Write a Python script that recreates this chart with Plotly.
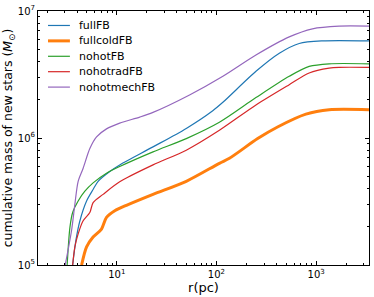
import plotly.graph_objects as go

# ---- data ----
r_fullFB = [3.61, 3.89, 4.27, 4.98, 5.79, 6.50, 8.51, 10.7, 23.1, 49.8, 91.8, 116, 249, 427, 676, 1156, 3388]
m_fullFB = [1.0e5, 1.56e5, 2.23e5, 3.19e5, 3.93e5, 4.56e5, 5.45e5, 6.14e5, 8.51e5, 1.19e6, 1.64e6, 1.91e6, 3.35e6, 4.65e6, 5.55e6, 5.82e6, 5.82e6]

r_fullcoldFB = [4.44, 4.98, 5.79, 7.03, 7.89, 9.55, 12.5, 23.1, 49.8, 107, 135, 259, 410, 789, 1349, 3388]
m_fullcoldFB = [1.0e5, 1.39e5, 1.66e5, 1.92e5, 2.37e5, 2.67e5, 2.95e5, 3.60e5, 4.56e5, 6.32e5, 6.92e5, 9.89e5, 1.22e6, 1.54e6, 1.67e6, 1.67e6]

r_nohotFB = [3.18, 3.39, 3.61, 4.10, 4.79, 5.79, 7.89, 10.7, 23.1, 49.8, 107, 249, 537, 851, 1349, 3388]
m_nohotFB = [1.0e5, 1.98e5, 2.59e5, 3.19e5, 3.81e5, 4.43e5, 5.28e5, 5.96e5, 7.78e5, 9.89e5, 1.33e6, 2.08e6, 3.06e6, 3.66e6, 3.84e6, 3.84e6]

r_nohotradFB = [3.61, 3.80, 4.10, 4.60, 5.37, 5.79, 7.29, 10.7, 23.1, 49.8, 107, 249, 537, 851, 1349, 1698, 3388]
m_nohotradFB = [1.0e5, 1.39e5, 1.76e5, 2.23e5, 2.59e5, 3.10e5, 3.60e5, 4.52e5, 6.14e5, 8.02e5, 1.15e6, 1.82e6, 2.63e6, 3.25e6, 3.55e6, 3.60e6, 3.60e6]

r_nohotmechFB = [3.04, 3.52, 3.80, 4.10, 4.60, 5.37, 6.27, 7.89, 10.7, 17.0, 23.1, 53.7, 116, 249, 537, 918, 1698, 3388]
m_nohotmechFB = [1.0e5, 1.87e5, 3.01e5, 4.56e5, 5.78e5, 8.26e5, 1.02e6, 1.18e6, 1.31e6, 1.46e6, 1.59e6, 2.18e6, 3.06e6, 4.50e6, 6.25e6, 7.24e6, 7.60e6, 7.60e6]

series_names = ["fullFB", "fullcoldFB", "nohotFB", "nohotradFB", "nohotmechFB"]
x_tickvals = [10, 100, 1000]
x_ticktext = ["10<sup>1</sup>", "10<sup>2</sup>", "10<sup>3</sup>"]
y_tickvals = [1e5, 1e6, 1e7]
y_ticktext = ["10<sup>5</sup>", "10<sup>6</sup>", "10<sup>7</sup>"]

xs_all = [r_fullFB, r_fullcoldFB, r_nohotFB, r_nohotradFB, r_nohotmechFB]
ys_all = [m_fullFB, m_fullcoldFB, m_nohotFB, m_nohotradFB, m_nohotmechFB]
colors = ["#1f77b4", "#ff7f0e", "#2ca02c", "#d62728", "#9467bd"]
widths = [1.2, 3, 1.2, 1.2, 1.2]

font = "DejaVu Sans"
fig = go.Figure()
for name, xs, ys, col, w in zip(series_names, xs_all, ys_all, colors, widths):
    fig.add_trace(go.Scatter(x=xs, y=ys, mode="lines", name=name, showlegend=False,
                             line=dict(color=col, width=w, shape="spline", smoothing=0.8)))

# legend drawn in the matplotlib manner (compact rows, no frame)
W, H = 374, 297
ml, mr, mt, mb = 38, 4, 7, 32
pw, ph = W - ml - mr, H - mt - mb
def px(x):
    return (x - ml) / pw
def py(y):
    return 1 - (y - mt) / ph
shapes, annotations = [], []
for i, (name, col, w) in enumerate(zip(series_names, colors, widths)):
    yy = 21.7 + i * 15.65
    shapes.append(dict(type="line", xref="paper", yref="paper", x0=px(48), x1=px(70),
                       y0=py(yy), y1=py(yy), line=dict(color=col, width=w)))
    annotations.append(dict(xref="paper", yref="paper", x=px(77), y=py(yy), text=name,
                            showarrow=False, xanchor="left", yanchor="middle",
                            font=dict(family=font, size=11, color="black")))

axis_common = dict(
    type="log", showgrid=False, zeroline=False, showline=True, linecolor="black",
    linewidth=1, mirror="ticks", ticks="inside", ticklen=4, tickcolor="black",
    tickfont=dict(family=font, size=10, color="black"),
)
fig.update_xaxes(**axis_common, range=[0.21, 3.53], tickvals=x_tickvals, ticktext=x_ticktext,
                 minor=dict(ticks="inside", ticklen=2, tickcolor="black", dtick="D1", showgrid=False),
                 title=dict(text="r(pc)", font=dict(family=font, size=13, color="black"), standoff=2))
fig.update_yaxes(**axis_common, range=[5, 7], tickvals=y_tickvals, ticktext=y_ticktext,
                 minor=dict(ticks="inside", ticklen=2, tickcolor="black", dtick="D1", showgrid=False),
                 title=dict(text="cumulative mass of new stars (<i>M</i><sub>⊙</sub>)",
                            font=dict(family=font, size=12.5, color="black"), standoff=2))
fig.update_layout(
    width=W, height=H, margin=dict(l=ml, r=mr, t=mt, b=mb),
    plot_bgcolor="white", paper_bgcolor="white",
    shapes=shapes, annotations=annotations, showlegend=False,
    font=dict(family=font),
)
fig.write_html("out.html", config={"displayModeBar": False},
               post_script="document.body.style.margin='0';document.body.style.padding='0';document.body.style.overflow='hidden';")
